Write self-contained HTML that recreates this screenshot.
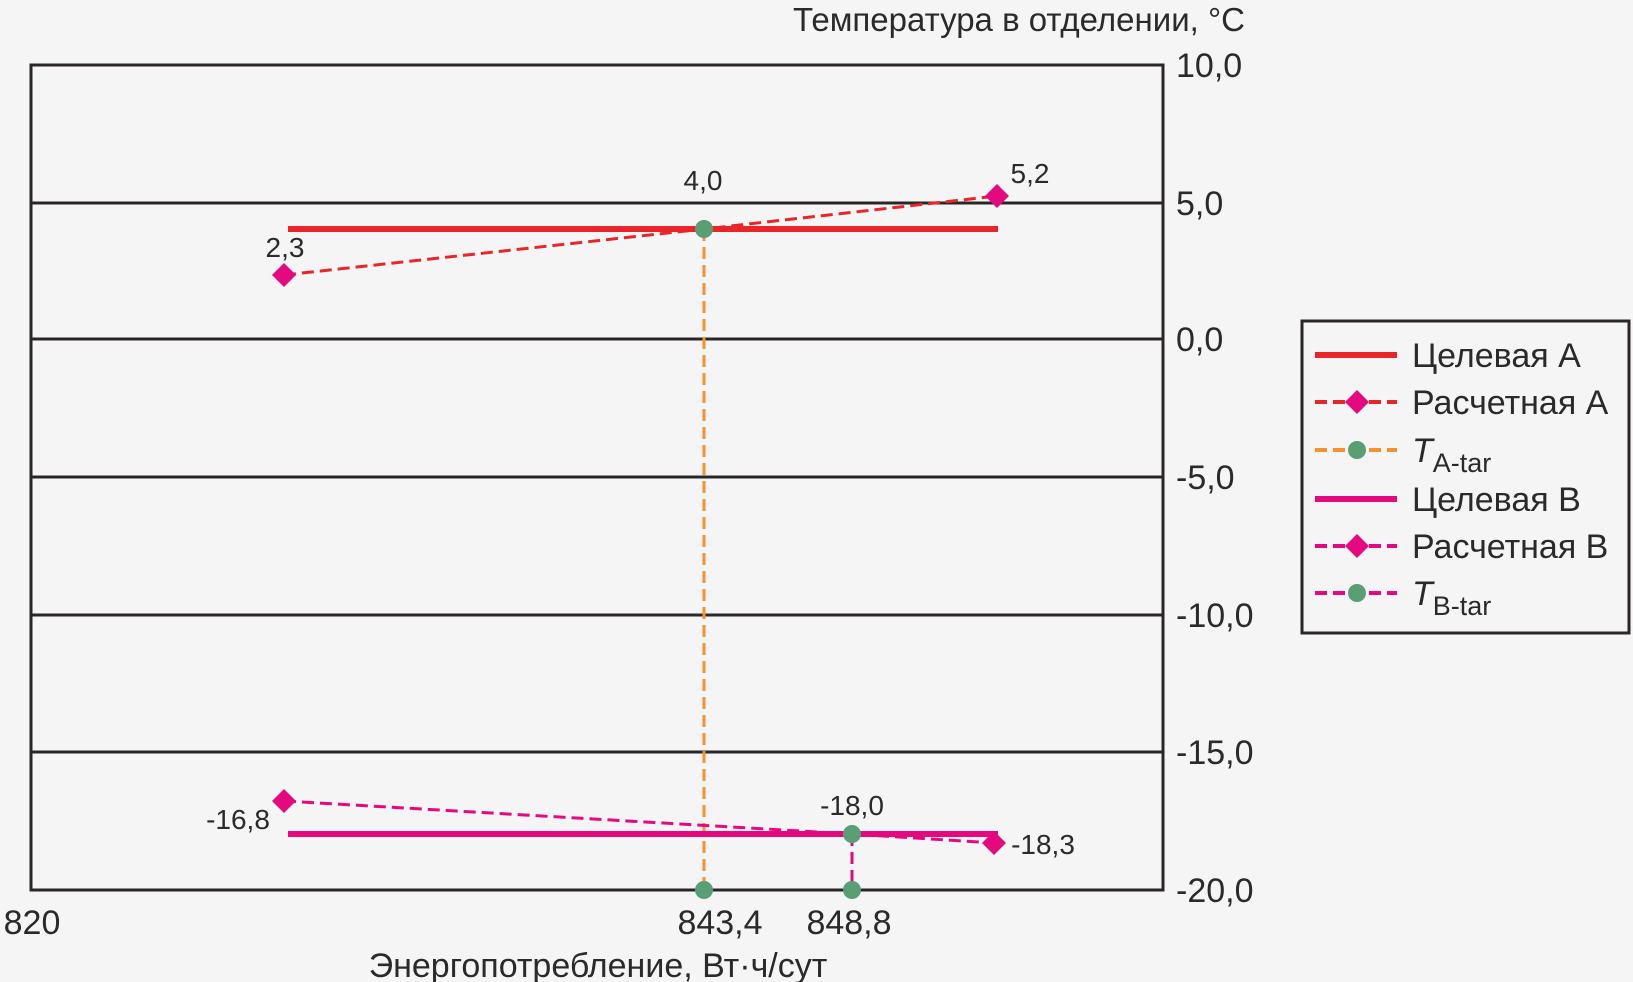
<!DOCTYPE html>
<html><head><meta charset="utf-8"><style>
html,body{margin:0;padding:0;background:#f5f5f5;}
svg{display:block;}
text{font-family:"Liberation Sans",sans-serif;fill:#2a2a2a;}
</style></head><body>
<svg width="1633" height="982" viewBox="0 0 1633 982" xmlns="http://www.w3.org/2000/svg">
<rect width="1633" height="982" fill="#f5f5f5"/>
<g stroke="#2b2626" stroke-width="3">
<line x1="31" y1="203" x2="1163" y2="203"/>
<line x1="31" y1="339" x2="1163" y2="339"/>
<line x1="31" y1="477" x2="1163" y2="477"/>
<line x1="31" y1="615" x2="1163" y2="615"/>
<line x1="31" y1="752" x2="1163" y2="752"/>
<rect x="31" y="65" width="1132" height="825" fill="none"/>
</g>
<g font-size="34" text-anchor="start">
<text x="1176" y="77">10,0</text>
<text x="1176" y="215">5,0</text>
<text x="1176" y="351">0,0</text>
<text x="1176" y="489">-5,0</text>
<text x="1176" y="627">-10,0</text>
<text x="1176" y="764">-15,0</text>
<text x="1176" y="902">-20,0</text>
</g>
<text x="1245" y="31" font-size="33" text-anchor="end">Температура в отделении, °С</text>
<g font-size="34" text-anchor="middle">
<text x="32" y="934">820</text>
<text x="720" y="934">843,4</text>
<text x="849" y="934">848,8</text>
<text x="598" y="977">Энергопотребление, Вт·ч/сут</text>
</g>
<line x1="288" y1="229" x2="998" y2="229" stroke="#e8262a" stroke-width="6"/>
<polyline points="284,275 704,229 997,196" fill="none" stroke="#e8262a" stroke-width="3" stroke-dasharray="12,6"/>
<line x1="704" y1="229" x2="704" y2="890" stroke="#f7902f" stroke-width="3" stroke-dasharray="12,6"/>
<line x1="288" y1="834" x2="998" y2="834" stroke="#e5097f" stroke-width="6"/>
<polyline points="284,801 852,834 994,843" fill="none" stroke="#e5097f" stroke-width="3" stroke-dasharray="12,6"/>
<line x1="852" y1="834" x2="852" y2="890" stroke="#e5097f" stroke-width="3" stroke-dasharray="12,6"/>
<g fill="#e5097f">
<polygon points="284,263 296,275 284,287 272,275"/>
<polygon points="997,184 1009,196 997,208 985,196"/>
<polygon points="284,789 296,801 284,813 272,801"/>
<polygon points="994,831 1006,843 994,855 982,843"/>
</g>
<g fill="#5a9e74">
<circle cx="704" cy="229" r="9"/>
<circle cx="704" cy="890" r="9"/>
<circle cx="852" cy="834" r="9"/>
<circle cx="852" cy="890" r="9"/>
</g>
<g font-size="28" text-anchor="middle">
<text x="703" y="190">4,0</text>
<text x="1030" y="183">5,2</text>
<text x="285" y="257">2,3</text>
<text x="238" y="829">-16,8</text>
<text x="852" y="815">-18,0</text>
<text x="1043" y="854">-18,3</text>
</g>
<rect x="1302" y="321" width="327" height="312" fill="none" stroke="#2b2626" stroke-width="3"/>
<g stroke-width="4">
<line x1="1315" y1="355" x2="1397" y2="355" stroke="#e8262a" stroke-width="6"/>
<line x1="1315" y1="402" x2="1397" y2="402" stroke="#e8262a" stroke-dasharray="12,6"/>
<line x1="1315" y1="450" x2="1397" y2="450" stroke="#f7902f" stroke-dasharray="12,6"/>
<line x1="1315" y1="499" x2="1397" y2="499" stroke="#e5097f" stroke-width="6"/>
<line x1="1315" y1="546" x2="1397" y2="546" stroke="#e5097f" stroke-dasharray="12,6"/>
<line x1="1315" y1="593" x2="1397" y2="593" stroke="#e5097f" stroke-dasharray="12,6"/>
</g>
<polygon points="1357,390 1369,402 1357,414 1345,402" fill="#e5097f"/>
<polygon points="1357,534 1369,546 1357,558 1345,546" fill="#e5097f"/>
<circle cx="1357" cy="450" r="9" fill="#5a9e74"/>
<circle cx="1357" cy="593" r="9" fill="#5a9e74"/>
<g font-size="34">
<text x="1412" y="367">Целевая А</text>
<text x="1412" y="414">Расчетная А</text>
<text x="1412" y="462"><tspan font-style="italic">T</tspan><tspan font-size="27" dy="10">A-tar</tspan></text>
<text x="1412" y="511">Целевая В</text>
<text x="1412" y="558">Расчетная В</text>
<text x="1412" y="605"><tspan font-style="italic">T</tspan><tspan font-size="27" dy="10">B-tar</tspan></text>
</g>
</svg>
</body></html>
